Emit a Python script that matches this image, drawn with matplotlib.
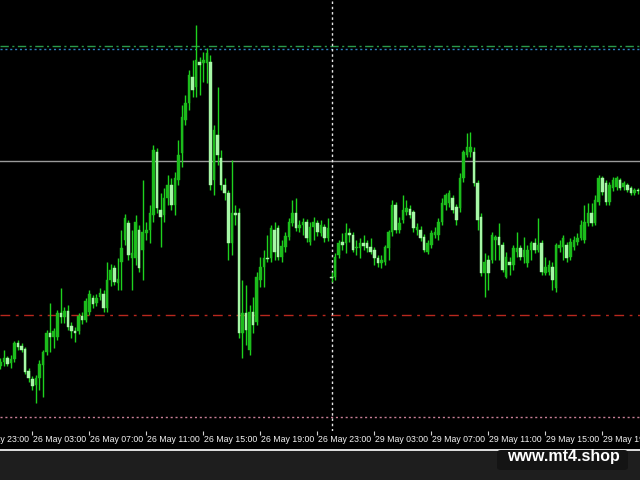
import matplotlib
matplotlib.use("Agg")
import matplotlib.pyplot as plt
from matplotlib.patches import Rectangle, FancyBboxPatch
import numpy as np

# ---------------- data (15-minute candles, price in points) ----------------
opens = [64, 68, 72, 67, 71, 87, 84, 81, 59, 51, 45, 52, 65, 78, 97, 93, 93, 117, 113, 119,
         104, 99, 99, 114, 110, 118, 132, 127, 133, 136, 122, 150, 162, 147, 168, 190, 207, 172, 172, 200,
         180, 197, 200, 215, 278, 220, 215, 232, 245, 225, 250, 277, 310, 327, 353, 343, 368, 367, 367, 368,
         250, 295, 272, 245, 237, 187, 217, 217, 97, 117, 80, 118, 108, 150, 163, 172, 172, 200, 202, 173,
         183, 193, 207, 217, 202, 205, 208, 188, 203, 207, 197, 203, 192, 153, 153, 175, 188, 187, 197, 195,
         182, 182, 187, 187, 183, 180, 172, 167, 168, 182, 198, 225, 200, 210, 218, 221, 218, 200, 200, 193,
         178, 185, 195, 195, 208, 225, 227, 232, 223, 222, 252, 275, 278, 278, 247, 213, 157, 170, 170, 190,
         193, 185, 153, 168, 165, 178, 182, 173, 167, 180, 187, 180, 187, 157, 158, 163, 142, 182, 183, 185,
         173, 183, 188, 192, 190, 207, 217, 207, 228, 252, 247, 228, 242, 243, 250, 243, 245, 242, 237, 240]
highs = [72, 80, 74, 75, 89, 90, 87, 83, 62, 54, 55, 70, 80, 100, 127, 102, 120, 142, 123, 125,
         108, 103, 117, 118, 132, 140, 135, 136, 142, 140, 168, 166, 165, 172, 200, 216, 210, 200, 215, 205,
         250, 208, 225, 285, 282, 237, 242, 255, 252, 258, 290, 325, 335, 360, 370, 405, 373, 378, 382, 375,
         305, 343, 280, 252, 240, 270, 225, 222, 150, 145, 125, 133, 158, 173, 180, 195, 205, 208, 205, 190,
         198, 212, 230, 232, 210, 212, 211, 208, 213, 210, 210, 206, 212, 158, 177, 190, 197, 207, 202, 198,
         190, 192, 195, 190, 192, 183, 175, 175, 185, 200, 230, 228, 213, 235, 230, 225, 220, 207, 204, 196,
         190, 200, 203, 212, 232, 237, 240, 235, 226, 257, 280, 297, 298, 283, 250, 217, 177, 175, 198, 195,
         207, 188, 178, 173, 185, 198, 185, 193, 185, 189, 192, 212, 190, 173, 170, 168, 187, 190, 195, 188,
         192, 194, 197, 210, 225, 227, 227, 235, 255, 254, 250, 248, 253, 254, 252, 249, 247, 244, 242, 242]
lows = [61, 64, 64, 62, 68, 80, 78, 56, 48, 40, 27, 40, 33, 75, 78, 82, 90, 107, 107, 100,
        92, 88, 96, 106, 108, 115, 122, 124, 130, 118, 118, 144, 145, 140, 140, 185, 170, 140, 165, 158,
        150, 190, 187, 208, 217, 183, 208, 225, 220, 215, 245, 263, 305, 320, 333, 333, 335, 348, 347, 240,
        235, 265, 240, 230, 170, 175, 205, 92, 72, 85, 75, 97, 105, 143, 143, 168, 168, 170, 170, 168,
        178, 190, 204, 199, 198, 195, 188, 185, 190, 194, 194, 188, 189, 148, 150, 172, 180, 177, 188, 178,
        175, 172, 180, 178, 176, 165, 163, 162, 165, 170, 194, 197, 197, 207, 215, 212, 198, 195, 189, 178,
        176, 182, 192, 190, 205, 220, 223, 217, 205, 218, 248, 273, 273, 244, 200, 154, 133, 140, 167, 170,
        170, 158, 152, 155, 160, 173, 170, 167, 163, 170, 177, 178, 155, 155, 155, 140, 138, 178, 170, 168,
        170, 180, 185, 190, 187, 204, 204, 205, 225, 235, 225, 225, 239, 240, 240, 240, 238, 235, 235, 236]
closes = [68, 72, 66, 71, 87, 83, 80, 58, 52, 44, 52, 66, 78, 97, 93, 99, 117, 113, 119, 103,
          99, 97, 114, 110, 129, 136, 126, 132, 137, 122, 150, 160, 148, 151, 182, 212, 175, 177, 208, 162,
          198, 200, 217, 280, 222, 213, 232, 245, 225, 252, 275, 313, 327, 355, 340, 370, 365, 370, 377, 245,
          300, 275, 245, 237, 187, 217, 215, 97, 117, 100, 118, 105, 153, 163, 172, 171, 202, 178, 173, 184,
          194, 208, 217, 202, 205, 208, 192, 203, 208, 198, 205, 192, 202, 152, 173, 187, 185, 197, 195, 180,
          183, 187, 184, 182, 178, 172, 167, 170, 183, 198, 225, 200, 207, 220, 222, 215, 202, 203, 192, 180,
          187, 197, 198, 208, 227, 235, 237, 220, 210, 252, 278, 283, 283, 247, 210, 157, 168, 157, 195, 193,
          185, 160, 173, 165, 182, 182, 173, 180, 180, 187, 180, 185, 158, 163, 165, 150, 185, 185, 192, 172,
          188, 190, 192, 205, 208, 217, 207, 230, 252, 238, 228, 245, 250, 252, 242, 247, 240, 237, 240, 239]

tick_bars = [-7, 9, 25, 41, 57, 73, 89, 105, 121, 137, 153, 169]
tick_labels = ["25 May 23:00", "26 May 03:00", "26 May 07:00", "26 May 11:00", "26 May 15:00",
               "26 May 19:00", "26 May 23:00", "29 May 03:00", "29 May 07:00", "29 May 11:00",
               "29 May 15:00", "29 May 19:00"]
separator_bar = 93

level_resistance_a = 384   # green dash-dot
level_resistance_b = 381.5 # blue dotted
level_mid = 269            # grey solid
level_support = 115        # red dash-dot
level_low = 13             # pink dotted

# ---------------- figure ----------------
W, H = 640, 480
fig = plt.figure(figsize=(6.4, 4.8), dpi=100, facecolor="#1e1e1e")
fig.patches.append(Rectangle((0, (H - 449) / H), 1, 449 / H, transform=fig.transFigure,
                             facecolor="black", edgecolor="none", zorder=-10))
fig.add_artist(plt.Line2D([0, 1], [(H - 449.5) / H] * 2, transform=fig.transFigure,
                          color="#f0f0f0", lw=1.3, zorder=-5))

ax = fig.add_axes([0, (H - 431) / H, 1, 431 / H], facecolor="black")
ax.set_zorder(1)
for s in ax.spines.values():
    s.set_visible(False)

n = len(closes)
x = np.arange(n)
o = np.array(opens, float); c = np.array(closes, float)
hi = np.array(highs, float); lo = np.array(lows, float)
bull = c >= o
wick_col = "#1ed21e"
bull_col = "#1cbc1c"
bear_col = "#a6f7a6"
ax.vlines(x, lo, hi, color=wick_col, lw=1.0, zorder=3)
bottoms = np.minimum(o, c)
heights = np.maximum(np.abs(c - o), 1.5)
ax.bar(x[bull], heights[bull], bottom=bottoms[bull], width=0.72, color=bull_col,
       edgecolor=bull_col, lw=0.3, zorder=4)
ax.bar(x[~bull], heights[~bull], bottom=bottoms[~bull], width=0.72, color=bear_col,
       edgecolor=bear_col, lw=0.3, zorder=4)

# horizontal levels
ax.axhline(level_resistance_a, color="#2a9a4a", lw=1.0, ls=(0, (6, 2.5, 1.5, 2.5)), zorder=2)
ax.axhline(level_resistance_b, color="#2e7fc0", lw=1.0, ls=(0, (1.5, 2)), zorder=2)
ax.axhline(level_mid, color="#9a9a9a", lw=1.0, zorder=2)
ax.axhline(level_support, color="#b8281e", lw=1.0, ls=(0, (7, 4, 2, 4)), zorder=2)
ax.axhline(level_low, color="#c87f96", lw=1.0, ls=(0, (1.5, 2)), zorder=2)
ax.axvline(separator_bar, color="#e8e8e8", lw=1.0, ls=(0, (1.8, 2)), zorder=2)

px = 3.5625
ax.set_xlim(-0.24 / px, (W - 0.24) / px)
ax.set_ylim(-1, 430)
ax.set_xticks([]); ax.set_yticks([])

trans = ax.get_xaxis_transform()
ax.vlines(tick_bars, -4 / 431, 0, transform=trans, color="#d0d0d0", lw=0.8, clip_on=False)
for b, lab in zip(tick_bars, tick_labels):
    ax.text(b + 0.3, -8.5 / 431, lab, transform=trans, ha="left", va="center",
            color="#f4f4f4", fontsize=6.3, family="Liberation Sans", clip_on=False)

# watermark
fig.patches.append(FancyBboxPatch((497 / W, (H - 470) / H), 131 / W, 20 / H,
                                  boxstyle="round,pad=0,rounding_size=0.006",
                                  transform=fig.transFigure, facecolor="#141414",
                                  edgecolor="none", zorder=2))
fig.text(563 / W, (H - 457) / H, "www.mt4.shop", color="white", fontsize=11.5,
         fontweight="bold", family="Liberation Sans", ha="center", va="center", zorder=3)

fig.savefig("out.png", dpi=100, facecolor=fig.get_facecolor())
